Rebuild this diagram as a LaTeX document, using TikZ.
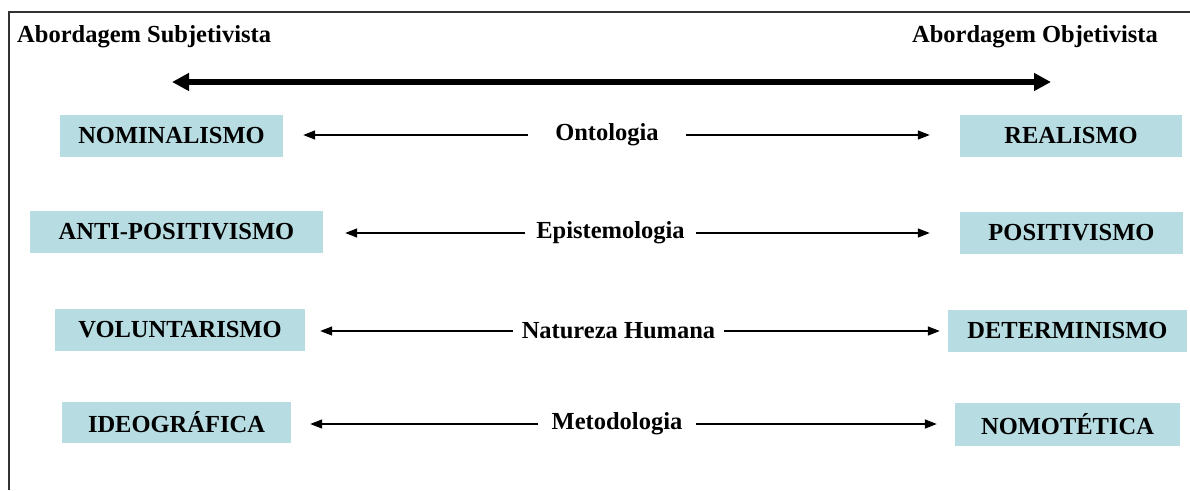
\documentclass[tikz,border=0pt]{standalone}
\usepackage{fontspec}
\setmainfont{Liberation Serif}
\usetikzlibrary{arrows.meta}
\definecolor{boxblue}{RGB}{183,221,227}
\definecolor{framegray}{RGB}{50,50,50}
\begin{document}
\begin{tikzpicture}[x=1pt,y=-1pt,
  lbl/.style={font=\fontsize{24.5}{28}\selectfont\bfseries, inner sep=0pt, text=black},
  cat/.style={lbl, fill=boxblue, minimum height=42pt},
  thinarrow/.style={line width=1.4pt, -{Triangle[length=12pt,width=9pt]}},
  bigarrow/.style={line width=5.5pt, {Triangle[length=17pt,width=17pt]}-{Triangle[length=17pt,width=17pt]}}]
\useasboundingbox (0,0) rectangle (1190,490);
\fill[white] (0,0) rectangle (1190,490);
% frame
\draw[framegray, line width=1.3pt] (9,490) -- (9,12) -- (1190,12);
% headers
\node[lbl, anchor=base west] (subj) at (17,42) {Abordagem Subjetivista};
\node[lbl, anchor=base east] (obj) at (1158,42) {Abordagem Objetivista};
% big arrow
\coordinate (bl) at (172,82);
\coordinate (br) at (1051,82);
\draw[bigarrow] (bl) -- (br);
% boxes
\node[cat, minimum width=223pt] (nom) at (171.5,136) {NOMINALISMO};
\node[cat, minimum width=222pt] (rea) at (1071,136) {REALISMO};
\node[cat, minimum width=293pt] (anti) at (176.5,232) {ANTI-POSITIVISMO};
\node[cat, minimum width=223pt] (pos) at (1071.5,233) {POSITIVISMO};
\node[cat, minimum width=250pt] (vol) at (180,330) {VOLUNTARISMO};
\node[cat, minimum width=239pt] (det) at (1067.5,331) {DETERMINISMO};
\node[cat, minimum width=229pt, minimum height=41pt] (ideo) at (176.5,422.5) {IDEOGRÁFICA};
\node[cat, minimum width=225pt, minimum height=43pt] (nomo) at (1067.5,424.5) {NOMOTÉTICA};
% middle labels
\node[lbl, inner xsep=27pt] (ont) at (607,135) {Ontologia};
\node[lbl, inner xsep=11pt] (epi) at (610.5,233) {Epistemologia};
\node[lbl, inner xsep=9pt] (nat) at (618.5,331) {Natureza Humana};
\node[lbl, inner xsep=13pt] (met) at (617,424) {Metodologia};
% connectors
\draw[thinarrow, shorten >=20pt] (ont.west) -- (ont.west -| nom.east);
\draw[thinarrow, shorten >=30pt] (ont.east) -- (ont.east -| rea.west);
\draw[thinarrow, shorten >=22pt] (epi.west) -- (epi.west -| anti.east);
\draw[thinarrow, shorten >=30pt] (epi.east) -- (epi.east -| pos.west);
\draw[thinarrow, shorten >=15pt] (nat.west) -- (nat.west -| vol.east);
\draw[thinarrow, shorten >=8pt] (nat.east) -- (nat.east -| det.west);
\draw[thinarrow, shorten >=19pt] (met.west) -- (met.west -| ideo.east);
\draw[thinarrow, shorten >=18pt] (met.east) -- (met.east -| nomo.west);
\end{tikzpicture}
\end{document}
